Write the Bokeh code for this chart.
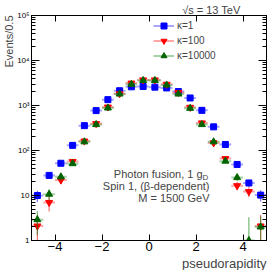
import math
from bokeh.plotting import figure
from bokeh.models import (Range1d, LogAxis, LinearAxis, FixedTicker, LogTicker,
                          Label, Legend, LegendItem, ColumnDataSource, Title)
from bokeh.embed import file_html
from bokeh.resources import INLINE

# ---------------- data ----------------
eta = [-4.75, -4.25, -3.75, -3.25, -2.75, -2.25, -1.75, -1.25, -0.75, -0.25,
       0.25, 0.75, 1.25, 1.75, 2.25, 2.75, 3.25, 3.75, 4.25, 4.75]
bin_half = 0.25

k1_val = [10, 28, 52, 130, 357, 770, 1350, 2130, 2600, 2640,
          2560, 2460, 2040, 1470, 780, 335, 136, 49, 19, 10.2]
k1_err = [2.8, 4.5, 6, 9, 15, 22, 29, 36, 40, 40,
          40, 39, 36, 30, 22, 14, 9, 5.5, 3.5, 2.8]

k100_val = [2.1, 7, 22, 57, 162, 395, 925, 1820, 3150, 3700,
            3700, 2960, 1950, 910, 410, 148, 66, 16.5, 12.2, 2.1]
k100_err = [1.6, 2.6, 4, 6, 10, 15, 23, 33, 43, 47,
            47, 42, 34, 23, 16, 9, 6, 3.5, 3, 1.6]

k10000_val = [2.9, 10.7, 26, 51, 156, 377, 880, 1800, 2960, 3600,
              3600, 2850, 1800, 865, 377, 156, 58, 25, 1.0, 2.0]
k10000_err = [1.6, 3, 4.5, 6, 10, 16, 24, 34, 44, 48,
              48, 43, 34, 24, 16, 10, 6, 4, 2.3, 1.4]

series_labels = ["κ=1", "κ=100", "κ=10000"]
x_ticks = [-4, -2, 0, 2, 4]
x_tick_labels = ["−4", "−2", "0", "2", "4"]
y_ticks = [1, 10, 100, 1000, 10000, 100000]
y_tick_labels = ["1", "10", "10²", "10³", "10⁴", "10⁵"]

FONT = "Liberation Sans"

# ---------------- figure ----------------
p = figure(width=274, height=270, x_range=Range1d(-5, 5), y_range=Range1d(1, 1e5),
           y_axis_type="log", output_backend="svg", toolbar_location=None,
           min_border_left=29, min_border_right=8, min_border_top=15, min_border_bottom=28)
p.xgrid.visible = False
p.ygrid.visible = False
p.outline_line_color = "black"
p.background_fill_color = "white"
p.border_fill_color = "white"

# title used for the sqrt(s) text
p.title.text = "√s = 13 TeV"
p.title.align = "right"
p.title.offset = 26
p.title.standoff = 0
p.title.text_font = FONT
p.title.text_font_size = "11px"
p.title.text_font_style = "normal"

# bottom x axis
xa = p.xaxis[0]
xa.ticker = FixedTicker(ticks=x_ticks, minor_ticks=[])
xa.major_tick_in = 6
xa.major_tick_out = 0
xa.minor_tick_in = 0
xa.minor_tick_out = 0
xa.major_label_standoff = 1
xa.major_label_text_font = FONT
xa.major_label_text_font_size = "13px"
xa.major_label_text_color = "black"
xa.axis_line_color = "black"
xa.major_tick_line_color = "black"
xa.major_label_overrides = {t: l for t, l in zip(x_ticks, x_tick_labels)}

# left y axis
ya = p.yaxis[0]
ya.ticker = LogTicker(desired_num_ticks=6, num_minor_ticks=10)
ya.major_tick_in = 8
ya.major_tick_out = 0
ya.minor_tick_in = 4
ya.minor_tick_out = 0
ya.major_label_standoff = 2
ya.major_label_text_font = FONT
ya.major_label_text_font_size = "8px"
ya.major_label_text_color = "black"
ya.axis_line_color = "black"
ya.major_tick_line_color = "black"
ya.minor_tick_line_color = "black"
ya.major_label_overrides = {t: l for t, l in zip(y_ticks, y_tick_labels)}

# top and right mirrored axes (ticks only, empty labels)
ta = LinearAxis(ticker=FixedTicker(ticks=x_ticks, minor_ticks=[]),
                major_tick_in=6, major_tick_out=0, minor_tick_in=0, minor_tick_out=0,
                major_label_text_font_size="1px", major_label_standoff=0,
                major_label_overrides={t: "" for t in x_ticks},
                axis_line_color="black", major_tick_line_color="black")
p.add_layout(ta, "above")
ra = LogAxis(ticker=LogTicker(desired_num_ticks=6, num_minor_ticks=10),
             major_tick_in=8, major_tick_out=0, minor_tick_in=4, minor_tick_out=0,
             major_label_text_font_size="1px", major_label_standoff=0,
             major_label_overrides={t: "" for t in y_ticks},
             axis_line_color="black", major_tick_line_color="black",
             minor_tick_line_color="black")
p.add_layout(ra, "right")

# axis titles (ROOT style: aligned to the axis end)
p.add_layout(Title(text="pseudorapidity", align="right", standoff=0, offset=0,
                   text_font=FONT, text_font_size="13px", text_font_style="normal"),
             "below")
p.add_layout(Title(text="Events/0.5", align="right", standoff=0, offset=0,
                   text_font=FONT, text_font_size="11px", text_font_style="normal"),
             "left")

# ---------------- series ----------------
styles = [
    dict(color="#0000ff", bar="#0000ff", marker="square", size=6),
    dict(color="#ff0000", bar="#ff0000", marker="inverted_triangle", size=7),
    dict(color="#006400", bar="#008000", marker="triangle", size=7),
]
vals = [k1_val, k100_val, k10000_val]
errs = [k1_err, k100_err, k10000_err]

items = []
for lab, v, e, st in zip(series_labels, vals, errs, styles):
    src = ColumnDataSource(dict(
        x=eta, y=v,
        x0=[xx - bin_half for xx in eta], x1=[xx + bin_half for xx in eta],
        lo=[max(yy - ee, 0.01) for yy, ee in zip(v, e)],
        hi=[yy + ee for yy, ee in zip(v, e)],
    ))
    h = p.segment(x0="x0", y0="y", x1="x1", y1="y", source=src,
                  line_color=st["bar"], line_alpha=0.35, line_width=2)
    vv = p.segment(x0="x", y0="lo", x1="x", y1="hi", source=src,
                   line_color=st["bar"], line_alpha=0.55, line_width=1.2)
    sc = p.scatter(x="x", y="y", source=src, marker=st["marker"], size=st["size"],
                   fill_color=st["color"], line_color=st["color"])
    items.append(LegendItem(label=lab, renderers=[h, sc]))

legend = Legend(items=items, location=(122, 177), border_line_color=None,
                background_fill_alpha=0, label_text_font=FONT,
                label_text_font_size="10px", glyph_width=21, glyph_height=15,
                label_height=15, spacing=0, padding=0, margin=0, label_standoff=3)
p.add_layout(legend)

# ---------------- text annotations inside the frame ----------------
def px_x(px):
    return -5 + (px - 29) / 23.7

def px_y(py):
    return 10 ** (5 - (py - 15) / 45.4)

p.add_layout(Label(x=px_x(201.5), y=px_y(175), text="Photon fusion, 1 g",
                   text_align="right", text_baseline="alphabetic",
                   text_font=FONT, text_font_size="11px"))
p.add_layout(Label(x=px_x(201.5), y=px_y(178), text="D",
                   text_align="left", text_baseline="alphabetic",
                   text_font=FONT, text_font_size="8px"))
p.add_layout(Label(x=px_x(208.5), y=px_y(187.3), text="Spin 1, (β-dependent)",
                   text_align="right", text_baseline="alphabetic",
                   text_font=FONT, text_font_size="11px"))
p.add_layout(Label(x=px_x(208.5), y=px_y(199.3), text="M = 1500 GeV",
                   text_align="right", text_baseline="alphabetic",
                   text_font=FONT, text_font_size="11px"))

open("out.html", "w").write(file_html(p, INLINE))
